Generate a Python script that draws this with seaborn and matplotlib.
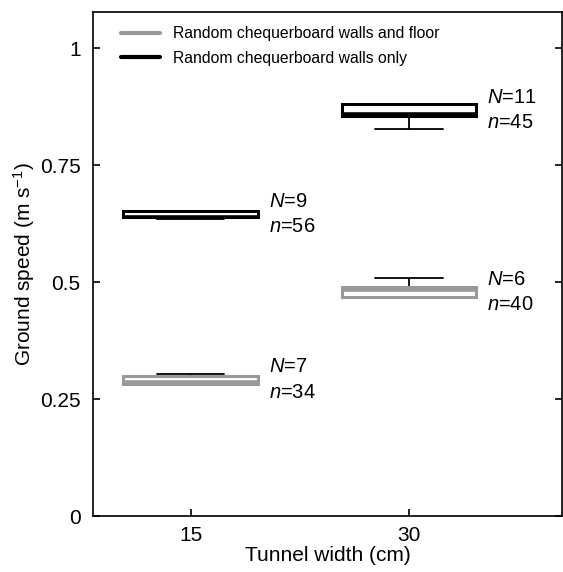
import numpy as np
import pandas as pd
import matplotlib
matplotlib.use("Agg")
import matplotlib.pyplot as plt
from matplotlib.lines import Line2D
import seaborn as sns

# Tunnel widths (cm) and the two wall/floor conditions
widths = [15, 30]
conditions = ["Random chequerboard walls and floor", "Random chequerboard walls only"]

# Box summaries of ground speed (m s-1): low whisker, Q1, median, Q3, high whisker
floor_15 = [0.283, 0.283, 0.286, 0.300, 0.303]
floor_30 = [0.467, 0.467, 0.484, 0.489, 0.509]
walls_15 = [0.635, 0.638, 0.640, 0.652, 0.652]
walls_30 = [0.828, 0.855, 0.860, 0.880, 0.880]

# Sample sizes (N animals, n flights)
N_floor = [7, 6]
n_floor = [34, 40]
N_walls = [9, 11]
n_walls = [56, 45]

y_ticks = [0, 0.25, 0.5, 0.75, 1]
y_tick_labels = ["0", "0.25", "0.5", "0.75", "1"]

colors = {conditions[0]: "#999999", conditions[1]: "black"}

rows = []
for cond, series in [(conditions[0], [floor_15, floor_30]),
                     (conditions[1], [walls_15, walls_30])]:
    for w, vals in zip(widths, series):
        for v in vals:
            rows.append({"width": w, "speed": v, "condition": cond})
df = pd.DataFrame(rows)

sns.set_theme(style="ticks")
plt.rcParams["font.family"] = ["Liberation Sans", "DejaVu Sans"]
plt.rcParams["mathtext.fontset"] = "custom"
plt.rcParams["mathtext.rm"] = "Liberation Sans"
plt.rcParams["mathtext.it"] = "Liberation Sans:italic"
plt.rcParams["text.color"] = "black"
plt.rcParams["axes.labelcolor"] = "black"

fig = plt.figure(figsize=(5.63, 5.72), dpi=100)
ax = fig.add_axes([0.1652, 0.0979, 0.833, 0.881])

box_width = 0.617
for cond in conditions:
    col = colors[cond]
    sub = df[df["condition"] == cond]
    sns.boxplot(
        data=sub, x="width", y="speed", native_scale=True,
        width=box_width, whis=(0, 100), fill=True, color=col,
        linewidth=2.0, showfliers=False, ax=ax,
        boxprops={"facecolor": "white", "edgecolor": col, "linewidth": 2.2,
                  "zorder": 3},
        medianprops={"color": col, "linewidth": 2.6, "zorder": 4},
        whiskerprops={"color": "black", "linewidth": 1.3, "zorder": 2},
        capprops={"color": "black", "linewidth": 1.3, "zorder": 2},
    )

# N / n annotations beside each box
half = box_width * 15 / 2
for series, Ns, ns in [([floor_15, floor_30], N_floor, n_floor),
                       ([walls_15, walls_30], N_walls, n_walls)]:
    for w, vals, N, n in zip(widths, series, Ns, ns):
        yc = (vals[1] + vals[3]) / 2
        xt = w + half + 0.75
        ax.text(xt, yc + 0.027, f"$N$={N}", fontsize=14.5, va="center", ha="left")
        ax.text(xt, yc - 0.027, f"$n$={n}", fontsize=14.5, va="center", ha="left")

ax.set_xlim(8.3, 40.5)
ax.set_ylim(0, 1.077)
ax.set_xticks(widths)
ax.set_xticklabels([str(w) for w in widths], fontsize=15)
ax.set_yticks(y_ticks)
ax.set_yticklabels(y_tick_labels, fontsize=15)
ax.tick_params(axis="both", direction="in", length=5, width=1.2, colors="black",
               labelcolor="black")
ax.tick_params(axis="y", right=True, pad=9)
ax.tick_params(axis="x", pad=7)
for s in ax.spines.values():
    s.set_visible(True)
    s.set_linewidth(1.2)
    s.set_color("black")

ax.set_xlabel("Tunnel width (cm)", fontsize=15, labelpad=1)
ax.set_ylabel("Ground speed (m s$^{-1}$)", fontsize=15, labelpad=2)

handles = [Line2D([], [], color=colors[c], linewidth=3) for c in conditions]
ax.legend(handles, conditions, loc="upper left", frameon=False, fontsize=11.3,
          handlelength=2.5, handletextpad=0.8, labelspacing=0.62,
          bbox_to_anchor=(0.03, 1.0))

fig.savefig("out.png", dpi=100)
